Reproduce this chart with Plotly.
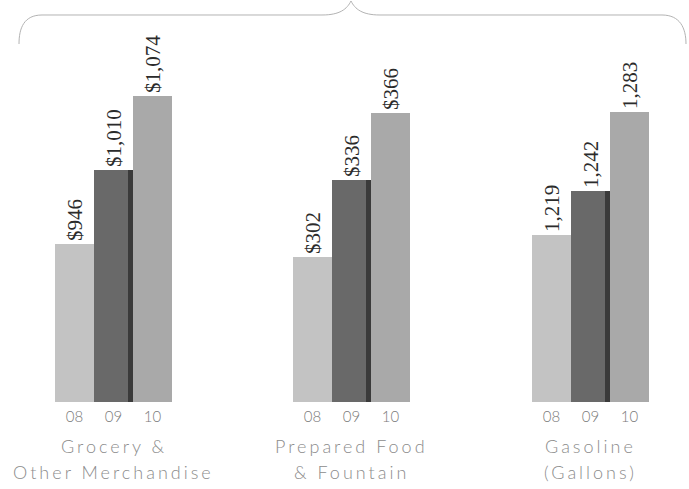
import plotly.graph_objects as go

W, H = 689, 489

years = ["08", "09", "10"]
grocery = [946, 1010, 1074]
prepared = [302, 336, 366]
gasoline = [1219, 1242, 1283]

group_values = [grocery, prepared, gasoline]
group_labels = [["Grocery &", "Other Merchandise"],
                ["Prepared Food", "& Fountain"],
                ["Gasoline", "(Gallons)"]]
group_text = ["$%{y:,}", "$%{y:,}", "%{y:,}"]

bar_colors = ["#c3c3c3", "#696969", "#a9a9a9"]
shadow_color = "#3a3a3a"

# layout geometry (pixels)
x_spans = [(55, 172), (293, 410), (532, 649)]
base_px, top_px = 402, 40
y_ranges = [(810.0, 1122.0), (237.5, 398.4), (1132.1, 1320.7)]


def px(x):
    return x / W


def py(y):
    return 1 - y / H


fig = go.Figure()
layout = {}
for i, (vals, tmpl) in enumerate(zip(group_values, group_text)):
    n = "" if i == 0 else str(i + 1)
    xa, ya = "x" + n, "y" + n
    fig.add_trace(go.Bar(
        x=years, y=vals, xaxis=xa, yaxis=ya,
        marker=dict(color=bar_colors, line=dict(width=0)),
        texttemplate=tmpl, textposition="outside", textangle=-90,
        constraintext="none", cliponaxis=False,
        textfont=dict(family="Liberation Serif", size=21, color="#2b2b2b"),
        showlegend=False, hoverinfo="skip"))
    # darker right edge of the middle bar
    fig.add_trace(go.Bar(
        x=[years[1]], y=[vals[1]], xaxis=xa, yaxis=ya,
        width=0.12, offset=0.38,
        marker=dict(color=shadow_color, line=dict(width=0)),
        showlegend=False, hoverinfo="skip"))
    x0, x1 = x_spans[i]
    layout["xaxis" + n] = dict(
        domain=[px(x0), px(x1)], anchor=ya, type="category",
        range=[-0.5, 2.5], showgrid=False, zeroline=False, showline=False,
        ticks="", ticklabelstandoff=4,
        tickfont=dict(family="Lato", size=15, color="#7a7a7a", weight=300))
    layout["yaxis" + n] = dict(
        domain=[py(base_px), py(top_px)], anchor=xa,
        range=list(y_ranges[i]), visible=False)
    cx = (x0 + x1) / 2
    for j, line in enumerate(group_labels[i]):
        fig.add_annotation(
            xref="paper", yref="paper", x=px(cx), y=py(446 + j * 26),
            xanchor="center", yanchor="middle", showarrow=False,
            text='<span style="letter-spacing:3px">%s</span>' % line,
            font=dict(family="Lato", size=18, color="#8c8c8c", weight=300))

# curly brace across the top
pts = [
    "M", (19, 44), "C", (19, 28), (24, 15), (42, 15),
    "L", (322, 15), "C", (340, 15), (347, 9), (351, 1),
    "C", (355, 9), (362, 15), (380, 15),
    "L", (662, 15), "C", (680, 15), (686, 28), (686, 44),
]
path = ""
for p in pts:
    if isinstance(p, str):
        path += p + " "
    else:
        path += "%.5f,%.5f " % (px(p[0]), py(p[1]))
fig.add_shape(type="path", path=path.strip(), xref="paper", yref="paper",
              line=dict(color="#b3b3b3", width=1))

fig.update_layout(
    width=W, height=H, autosize=False,
    margin=dict(l=0, r=0, t=0, b=0),
    paper_bgcolor="white", plot_bgcolor="rgba(0,0,0,0)",
    barmode="overlay", bargap=0,
    **layout)

fig.write_html("out.html")
